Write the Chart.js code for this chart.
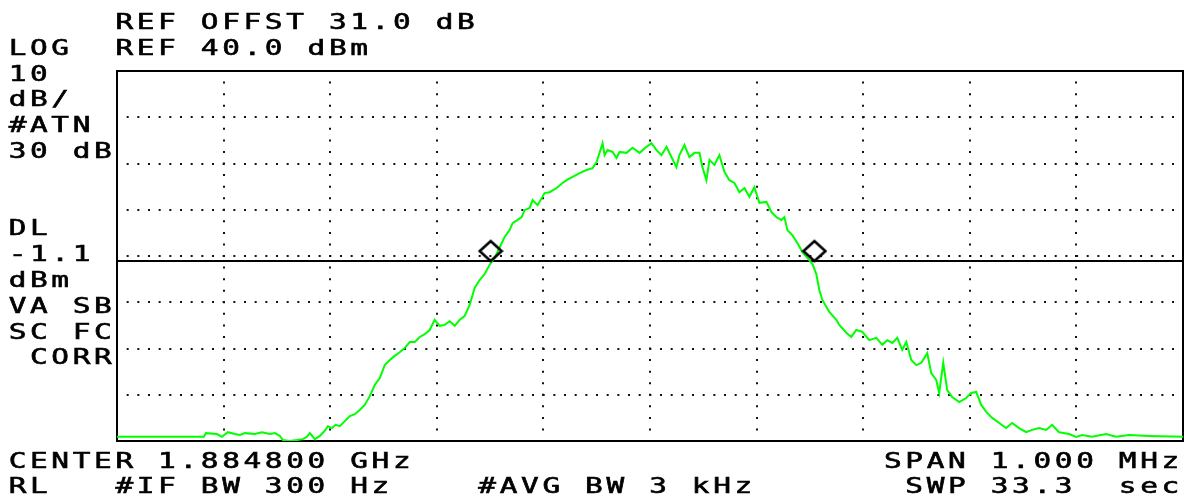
<!DOCTYPE html>
<html>
<head>
<meta charset="utf-8">
<script src="https://cdn.jsdelivr.net/npm/chart.js@4.4.1/dist/chart.umd.min.js"></script>
<style>
  html, body { margin: 0; padding: 0; background: #fff; overflow: hidden; }
  canvas { display: block; }
</style>
</head>
<body>
<canvas id="sa" width="1184" height="498"></canvas>
<script>
// Sweep: 1.884800 GHz centre, 1.000 MHz span. Frequencies are offsets from centre in kHz.
const freqOffsetKHz = [
  -500, -422.2, -418.5, -416.6, -406.3, -401.6, -396.0, -389.4, -384.7, -380.0,
  -370.7, -364.1, -356.6, -351.9, -347.2, -344.4, -337.9, -331.3, -325.7, -321.9,
  -319.1, -314.4, -309.7, -305.1, -302.2, -298.5, -294.8, -291.0, -286.3, -281.6,
  -276.9, -272.3, -267.6, -262.9, -258.2, -253.5, -248.8, -244.1, -239.5, -234.8,
  -230.1, -225.4, -220.7, -216.0, -211.3, -206.7, -202.0, -197.3, -192.6, -187.9,
  -183.2, -178.5, -173.9, -169.2, -164.5, -159.8, -155.1, -150.4, -145.7, -141.0,
  -136.4, -131.7, -128.9, -124.2, -120.4, -117.6, -112.9, -110.1, -105.4, -98.9,
  -94.2, -87.6, -82.0, -78.3, -72.6, -66.1, -59.5, -53.9, -50.1, -44.5,
  -42.6, -39.8, -35.1, -31.4, -28.6, -22.0, -16.4, -9.8, -3.3, 1.4,
  6.1, 10.8, 15.5, 20.1, 24.8, 27.6, 32.3, 37.0, 41.7, 46.4,
  49.2, 52.9, 55.8, 60.4, 65.1, 69.8, 74.5, 79.2, 83.9, 88.6,
  93.3, 97.9, 102.6, 109.2, 113.9, 118.6, 123.2, 126.1, 128.9, 133.6,
  138.2, 142.9, 147.6, 152.3, 156.0, 158.9, 161.7, 168.2, 174.8, 177.6,
  184.2, 188.8, 193.5, 199.2, 205.7, 212.3, 217.9, 222.6, 227.3, 232.0,
  236.6, 240.4, 245.1, 249.8, 254.5, 260.1, 263.8, 268.5, 271.3, 275.1,
  278.8, 283.5, 290.1, 296.6, 301.3, 306.0, 310.7, 315.4, 321.0, 327.6,
  334.1, 339.7, 346.3, 352.9, 358.5, 365.0, 371.6, 377.2, 383.8, 393.2,
  399.7, 405.3, 414.7, 427.8, 437.2, 449.4, 468.1, 500
];

// Averaged trace level, dBm
const traceDbm = [
  -39.1, -39.1, -39.1, -38.3, -38.5, -39.1, -38.1, -38.5, -38.7, -38.3,
  -38.5, -38.1, -38.5, -38.3, -38.9, -39.8, -40.0, -39.8, -39.6, -39.1,
  -38.3, -39.6, -38.9, -37.8, -36.8, -37.2, -36.5, -36.8, -35.7, -34.6,
  -34.2, -33.3, -32.2, -30.3, -27.9, -26.4, -23.6, -22.5, -21.6, -20.8,
  -19.9, -18.6, -18.6, -17.5, -16.9, -16.0, -13.8, -15.1, -14.9, -14.1,
  -15.1, -13.8, -13.0, -10.6, -6.9, -5.2, -3.9, -1.9, -0.4, 1.9,
  4.1, 5.6, 7.1, 7.8, 8.4, 9.9, 10.4, 12.1, 11.0, 13.6,
  13.8, 14.7, 15.8, 16.4, 17.1, 17.9, 18.6, 19.0, 20.3, 24.4,
  21.8, 22.9, 22.5, 21.2, 22.5, 22.3, 23.4, 22.3, 23.6, 24.4,
  22.9, 21.8, 23.6, 21.4, 19.2, 21.8, 24.0, 21.4, 22.3, 22.3,
  19.2, 16.4, 20.8, 19.7, 21.8, 18.2, 16.4, 15.8, 13.8, 14.7,
  12.8, 14.9, 11.5, 11.7, 9.5, 8.4, 7.8, 8.4, 5.6, 4.5,
  2.8, 0.9, -0.4, -1.7, -3.9, -7.4, -9.5, -12.1, -13.8, -14.9,
  -16.6, -17.5, -16.0, -16.4, -18.2, -17.7, -19.2, -18.2, -18.8, -17.7,
  -20.3, -18.6, -22.5, -23.6, -23.1, -21.0, -25.3, -26.8, -29.6, -23.1,
  -29.0, -30.5, -31.6, -30.7, -29.6, -29.4, -32.2, -33.7, -35.0, -36.1,
  -37.2, -36.1, -37.2, -38.1, -37.6, -37.2, -37.6, -36.5, -38.1, -38.5,
  -39.1, -38.7, -39.1, -38.5, -39.1, -38.7, -38.9, -39.1
];

// Display line and the two markers sitting on it (offsets in kHz)
const displayLineDbm = -1.1;
const markerOffsetKHz = [-149.5, 154.2];

// Screen scaling: REF 40.0 dBm, 10 dB/div, 8 divisions; 10 frequency divisions
const refLevelDbm = 40;
const dbPerDiv = 10;
const verticalDivs = 8;
const spanKHz = 1000;
const horizontalDivs = 10;

// Annotation rows: [row index, fixed-pitch text]
const annotationRows = [
  [0,  '     REF OFFST 31.0 dB'],
  [1,  'LOG  REF 40.0 dBm'],
  [2,  '10'],
  [3,  'dB/'],
  [4,  '#ATN'],
  [5,  '30 dB'],
  [8,  'DL'],
  [9,  '-1.1'],
  [10, 'dBm'],
  [11, 'VA SB'],
  [12, 'SC FC'],
  [13, ' CORR'],
  [17, 'CENTER 1.884800 GHz                      SPAN 1.000 MHz'],
  [18, 'RL   #IF BW 300 Hz    #AVG BW 3 kHz       SWP 33.3  sec']
];

// Diamond marker glyph: the point sits at the diamond's lower vertex
function makeDiamond() {
  const c = document.createElement('canvas');
  c.width = 26; c.height = 44;
  const g = c.getContext('2d');
  g.strokeStyle = '#000';
  g.lineWidth = 2.6;
  g.lineJoin = 'miter';
  g.beginPath();
  g.moveTo(13, 2);
  g.lineTo(24, 12);
  g.lineTo(13, 22);
  g.lineTo(2, 12);
  g.closePath();
  g.stroke();
  return c;
}

const xDivKHz = spanKHz / horizontalDivs;
const yMin = refLevelDbm - dbPerDiv * verticalDivs;

// Frame and display line, drawn under the trace
const screenFrame = {
  id: 'screenFrame',
  beforeDatasetsDraw(chart) {
    const { ctx, chartArea: a, scales } = chart;
    ctx.save();
    ctx.strokeStyle = '#000';
    ctx.lineWidth = 2;
    const yDl = Math.round(scales.y.getPixelForValue(displayLineDbm));
    ctx.beginPath();
    ctx.moveTo(a.left, yDl);
    ctx.lineTo(a.right, yDl);
    ctx.stroke();
    ctx.strokeRect(a.left, a.top, a.right - a.left, a.bottom - a.top);
    ctx.restore();
  }
};

// Fixed-pitch annotation text around the screen
const annotations = {
  id: 'annotations',
  afterDraw(chart) {
    const ctx = chart.ctx;
    const pitch = 21.35, rowPitch = 25.8, x0 = 17.5, y0 = 29;
    ctx.save();
    ctx.fillStyle = '#000';
    ctx.font = '21px "DejaVu Sans Mono"';
    ctx.textAlign = 'center';
    ctx.textBaseline = 'alphabetic';
    ctx.strokeStyle = '#000';
    ctx.lineWidth = 0.6;
    for (const [row, text] of annotationRows) {
      for (let i = 0; i < text.length; i++) {
        const ch = text[i];
        if (ch === ' ') continue;
        ctx.save();
        ctx.translate(x0 + i * pitch, y0 + row * rowPitch);
        ctx.scale(1.4, 1);
        ctx.fillText(ch, 0, 0);
        ctx.strokeText(ch, 0, 0);
        ctx.restore();
      }
    }
    ctx.restore();
  }
};

new Chart(document.getElementById('sa'), {
  type: 'line',
  data: {
    datasets: [
      {
        label: 'Trace',
        data: freqOffsetKHz.map((f, i) => ({ x: f, y: traceDbm[i] })),
        borderColor: 'rgb(0,255,0)',
        borderWidth: 2,
        pointRadius: 0,
        tension: 0,
        order: 2
      },
      {
        label: 'Markers',
        data: markerOffsetKHz.map(f => ({ x: f, y: displayLineDbm })),
        showLine: false,
        pointStyle: makeDiamond(),
        pointRadius: 12,
        order: 1
      }
    ]
  },
  options: {
    responsive: false,
    animation: false,
    devicePixelRatio: 1,
    layout: { autoPadding: false, padding: { left: 117, top: 71, right: 1, bottom: 57 } },
    plugins: { legend: { display: false }, tooltip: { enabled: false } },
    scales: {
      x: {
        type: 'linear',
        min: -spanKHz / 2,
        max: spanKHz / 2,
        ticks: { display: false, stepSize: xDivKHz },
        grid: { color: '#111', lineWidth: 2, drawTicks: false, tickLength: 0 },
        border: { display: false, dash: [2, 9.5625], dashOffset: 1 }
      },
      y: {
        type: 'linear',
        min: yMin,
        max: refLevelDbm,
        ticks: { display: false, stepSize: dbPerDiv },
        grid: { color: '#111', lineWidth: 2, drawTicks: false, tickLength: 0 },
        border: { display: false, dash: [2, 8.667], dashOffset: 1 }
      }
    }
  },
  plugins: [screenFrame, annotations]
});
</script>
</body>
</html>
